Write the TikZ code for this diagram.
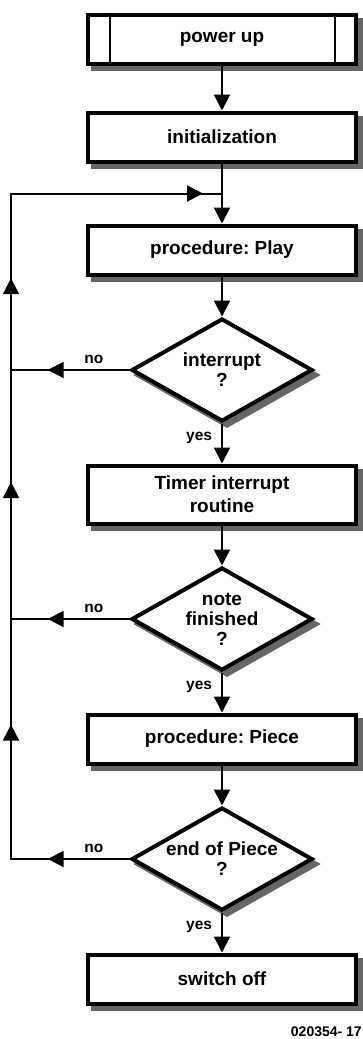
\documentclass[tikz,border=0pt]{standalone}
\usepackage{fontspec}
\setmainfont{Liberation Sans}
\usetikzlibrary{calc, positioning, arrows.meta, shapes.geometric, decorations.markings}
\frenchspacing

\begin{document}
\begin{tikzpicture}[
        x=1pt, y=1pt,
        font=\bfseries\fontsize{19}{20}\selectfont,
        >={Triangle[length=16pt,width=16pt]},
        node distance=40pt,
        shdw/.style={
            preaction={draw=black!60, fill=black!60, line width=4pt,
                transform canvas={shift={(5pt,-5pt)}}}
        },
        box/.style={
            draw, line width=4pt, fill=white, shdw,
            align=center,
            minimum width=268pt,
            minimum height=49pt,
            inner sep=2pt
        },
        test/.style={
            diamond, aspect=1.8, draw, line width=4pt, fill=white, shdw,
            align=center,
            minimum width=181pt,
            minimum height=103pt,
            inner sep=-2pt
        },
        flow/.style={line width=2pt},
        lbl/.style={inner sep=0pt, font=\bfseries\fontsize{15.5}{16}\selectfont},
        midarrow/.style={
            postaction={decorate},
            decoration={markings,
                mark=at position #1 with {\arrow{Triangle[length=16pt,width=16pt]}}}
        }
    ]

    \useasboundingbox (0,0) rectangle (363,-1039);

    \node[box] (pwr) at (222,-39) {power up};
    \draw[flow] ([xshift=24pt]pwr.north west) -- ([xshift=24pt]pwr.south west);
    \draw[flow] ([xshift=-23pt]pwr.north east) -- ([xshift=-23pt]pwr.south east);

    \node[box, below=45pt of pwr] (init) {initialization};
    \node[box, below=60pt of init] (play) {procedure: Play};
    \node[test, below=of play] (irq) {interrupt\\?};
    \node[box, below=of irq, minimum height=58pt, font=\bfseries\fontsize{19}{23}\selectfont]
        (timer) {Timer interrupt\\routine};
    \node[test, below=of timer] (fin) {note\\finished\\?};
    \node[box, below=of fin] (piece) {procedure: Piece};
    \node[test, below=of piece] (eop) {end of Piece\\?};
    \node[box, below=of eop] (off) {switch off};

    \node[anchor=base east, inner sep=0pt, font=\bfseries\fontsize{14}{14}\selectfont]
        (fig) at (362,-1036) {020354- 17};

    \coordinate (jn) at ($(init.south)!0.5!(play.north)$);
    \coordinate (lx) at (11,0);

    % main line
    \draw[flow, ->] (pwr) -- (init);
    \draw[flow] (init) -- (jn);
    \draw[flow, ->] (jn) -- (play);
    \draw[flow, ->] (play) -- (irq);
    \draw[flow, ->] (irq) -- node[lbl, pos=0.36, left=9pt] {yes} (timer);
    \draw[flow, ->] (timer) -- (fin);
    \draw[flow, ->] (fin) -- node[lbl, pos=0.36, left=9pt] {yes} (piece);
    \draw[flow, ->] (piece) -- (eop);
    \draw[flow, ->] (eop) -- node[lbl, pos=0.36, left=9pt] {yes} (off);

    % loop back
    \draw[flow] (eop.west) -- (eop.west -| lx) -- (jn -| lx) -- (jn);
    \draw[flow, midarrow=0.69] (irq.west) -- node[lbl, pos=0.3, above=5pt] {no} (irq.west -| lx);
    \draw[flow, midarrow=0.69] (fin.west) -- node[lbl, pos=0.3, above=5pt] {no} (fin.west -| lx);
    \draw[flow, midarrow=0.69] (eop.west) -- node[lbl, pos=0.3, above=5pt] {no} (eop.west -| lx);
    \draw[flow, midarrow=0.56] (eop.west -| lx) -- (fin.west -| lx);
    \draw[flow, midarrow=0.55] (fin.west -| lx) -- (irq.west -| lx);
    \draw[flow, midarrow=0.52] (irq.west -| lx) -- (jn -| lx);
    \draw[flow, midarrow=0.91] (jn -| lx) -- (jn);

\end{tikzpicture}
\end{document}
